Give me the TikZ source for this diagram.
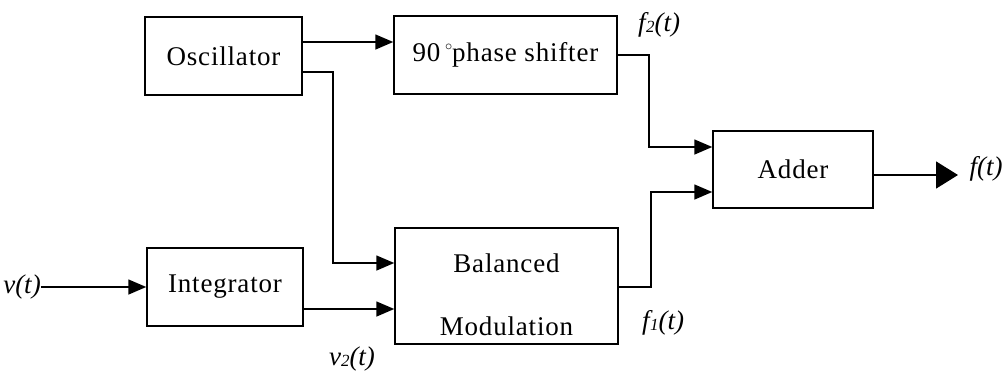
\documentclass[tikz,border=0pt]{standalone}
\usepackage{fontspec}
\setmainfont{Liberation Serif}
\newfontfamily\boxfont[LetterSpace=3]{Liberation Serif}
\usetikzlibrary{arrows.meta,calc}
\tikzset{
  blk/.style={draw, line width=1.5pt, rectangle, inner sep=0pt, font=\boxfont\fontsize{27}{30}\selectfont},
  lbl/.style={inner sep=0pt, font=\fontsize{27}{29}\selectfont\itshape},
  conn/.style={line width=1.6pt, -{Triangle[length=18pt,width=15pt]}},
  bigconn/.style={line width=1.6pt, -{Triangle[length=22pt,width=27pt]}},
}
\begin{document}
\begin{tikzpicture}[x=1pt,y=-1pt]
\useasboundingbox (0,0) rectangle (1007,373);
\node[blk, minimum width=157pt, minimum height=78pt] (osc) at (223.5,56) {Oscillator};
\node[blk, minimum width=223pt, minimum height=78pt] (ph) at (505.5,55) {90\,\raisebox{11pt}{\fontsize{14}{14}\selectfont$\circ$}phase shifter};
\node[blk, minimum width=160pt, minimum height=77pt] (add) at (793,169.5) {Adder};
\node[blk, minimum width=156pt, minimum height=78pt] (int) at (225,287) {Integrator};
\node[blk, minimum width=223pt, minimum height=116pt] (bm) at (506.5,286) {};
\node[inner sep=0pt, font=\boxfont\fontsize{27}{30}\selectfont] (bmtop) at (506.5,263) {Balanced};
\node[inner sep=0pt, font=\boxfont\fontsize{27}{30}\selectfont] (bmbot) at (506.5,326) {Modulation};
\node[lbl] (vt) at (22,287) {v(t)};
\node[lbl] (ft) at (986,169) {f(t)};
\node[lbl] (f2) at (659,25) {f\kern0.5pt{\fontsize{17}{17}\selectfont\raisebox{-1pt}{2}}(t)};
\node[lbl] (f1) at (663,323) {f\kern0.5pt{\fontsize{17}{17}\selectfont\raisebox{-1pt}{1}}(t)};
\node[lbl] (v2) at (352,359) {v{\fontsize{17}{17}\selectfont\raisebox{-1pt}{2}}(t)};
\coordinate (j1) at (333,72);
\coordinate (j2) at (649,55);
\coordinate (j3) at (651,287);
\coordinate (fend) at (958,175);
% connectors
\draw[conn] (osc.east |- 0,42) -- (ph.west |- 0,42);
\draw[conn] (osc.east |- j1) -- (j1) |- (bm.west |- 0,263);
\draw[conn] (vt.east |- 0,287) -- (int.west |- 0,287);
\draw[conn] (int.east |- 0,309) -- (bm.west |- 0,309);
\draw[conn] (ph.east |- j2) -- (j2) |- (add.west |- 0,147);
\draw[conn] (bm.east |- j3) -- (j3) |- (add.west |- 0,192);
\draw[bigconn] (add.east |- fend) -- (fend);
\end{tikzpicture}
\end{document}
